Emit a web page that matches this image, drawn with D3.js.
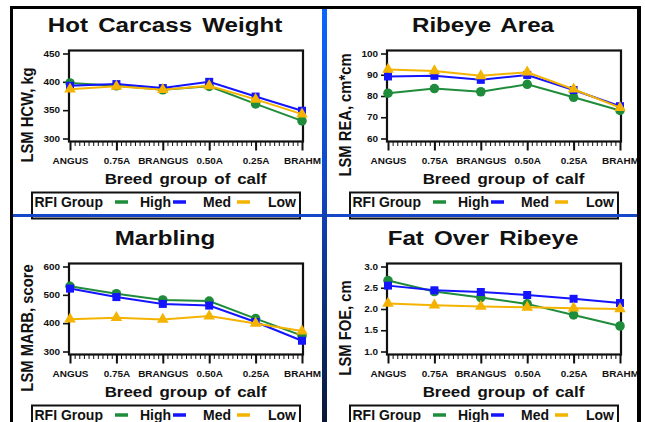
<!DOCTYPE html>
<html>
<head>
<meta charset="utf-8">
<script src="https://cdn.jsdelivr.net/npm/d3@7"></script>
<style>
  body { margin: 0; background: #fff; }
  svg text { font-family: "Liberation Sans", Arial, sans-serif; font-weight: bold; fill: #111; }
</style>
</head>
<body>
<svg id="chart" width="645" height="422"></svg>
<script>
// Breed groups of calf along the x axis
const categories = ["ANGUS", "0.75A", "BRANGUS", "0.50A", "0.25A", "BRAHM"];
const groups = ["High", "Med", "Low"];

// Hot carcass weight, kg
const hcwHigh = [398, 393, 386, 392, 361, 331];
const hcwMed  = [393, 396, 389, 400, 374, 349];
const hcwLow  = [387, 392, 386, 393, 369, 343];
const hcwTicks = [300, 350, 400, 450];

// Ribeye area, cm*cm
const reaHigh = [81.3, 83.5, 82.0, 85.5, 79.4, 73.2];
const reaMed  = [89.2, 89.5, 87.6, 89.9, 82.8, 75.2];
const reaLow  = [92.5, 91.8, 89.5, 91.2, 83.2, 74.5];
const reaTicks = [60, 70, 80, 90, 100];

// Marbling score
const marbHigh = [530, 504, 482, 478, 416, 356];
const marbMed  = [522, 492, 468, 462, 404, 338];
const marbLow  = [414, 419, 413, 425, 399, 372];
const marbTicks = [300, 400, 500, 600];

// Fat over ribeye, cm
const foeHigh = [2.67, 2.41, 2.27, 2.12, 1.86, 1.60];
const foeMed  = [2.55, 2.44, 2.40, 2.33, 2.24, 2.14];
const foeLow  = [2.13, 2.09, 2.06, 2.04, 2.02, 2.00];
const foeTicks = [1.0, 1.5, 2.0, 2.5, 3.0];

const colors = { High: "#1f8c3b", Med: "#1414ff", Low: "#f4b300" };

const panels = [
  { title: "Hot Carcass Weight", ylabel: "LSM HCW, kg", ticks: hcwTicks, fmt: d3.format("d"),
    series: { High: hcwHigh, Med: hcwMed, Low: hcwLow }, dx: 0, dy: 0 },
  { title: "Ribeye Area", ylabel: "LSM REA, cm*cm", ticks: reaTicks, fmt: d3.format("d"),
    series: { High: reaHigh, Med: reaMed, Low: reaLow }, dx: 318, dy: 0 },
  { title: "Marbling", ylabel: "LSM MARB, score", ticks: marbTicks, fmt: d3.format("d"),
    series: { High: marbHigh, Med: marbMed, Low: marbLow }, dx: 0, dy: 213 },
  { title: "Fat Over Ribeye", ylabel: "LSM FOE, cm", ticks: foeTicks, fmt: d3.format(".1f"),
    series: { High: foeHigh, Med: foeMed, Low: foeLow }, dx: 318, dy: 213 }
];

const svg = d3.select("#chart");
svg.append("rect").attr("width", 645).attr("height", 422).attr("fill", "#fff");

// text placed at (x, y), stretched horizontally by sx
function stretchedText(g, x, y, str, size, sx, anchor) {
  return g.append("text")
    .attr("transform", `translate(${x},${y}) scale(${sx},1)`)
    .attr("text-anchor", anchor || "middle")
    .attr("font-size", size)
    .text(str);
}

const frame = { left: 69, right: 303, top: 50.5, bottom: 141.5 };

panels.forEach(p => {
  const g = svg.append("g").attr("transform", `translate(${p.dx},${p.dy})`);

  // Title
  stretchedText(g, 165, 32, p.title, 21, 1.15).attr("word-spacing", 3);

  const x = d3.scalePoint().domain(categories).range([70, 302]);
  const y = d3.scaleLinear().domain(d3.extent(p.ticks)).range([138.5, 53.5]);

  // Plot frame
  g.append("rect")
    .attr("x", frame.left).attr("y", frame.top)
    .attr("width", frame.right - frame.left).attr("height", frame.bottom - frame.top)
    .attr("fill", "#fff").attr("stroke", "#111").attr("stroke-width", 2.2);

  // Y axis
  const yAxis = g.append("g").attr("transform", `translate(${frame.left},0)`)
    .call(d3.axisLeft(y).tickValues(p.ticks).tickFormat(p.fmt).tickSize(6).tickPadding(3));
  yAxis.select(".domain").remove();
  yAxis.selectAll(".tick line").attr("stroke", "#111").attr("stroke-width", 1.6);
  yAxis.selectAll(".tick text")
    .attr("font-size", 8.5).attr("font-family", null).attr("fill", "#111")
    .attr("x", -9 / 1.17).attr("transform", "scale(1.17,1)");

  // Minor ticks along x axis
  const idx = d3.scaleLinear().domain([0, categories.length - 1]).range([70, 302]);
  const minorVals = d3.range(0, (categories.length - 1) * 10 + 1).map(i => i / 10);
  const minor = g.append("g").attr("transform", `translate(0,${frame.bottom})`)
    .call(d3.axisBottom(idx).tickValues(minorVals).tickFormat("").tickSize(4.5));
  minor.select(".domain").remove();
  minor.selectAll(".tick line").attr("stroke", "#111").attr("stroke-width", 1);

  // Major x axis ticks and category labels
  const xAxis = g.append("g").attr("transform", `translate(0,${frame.bottom})`)
    .call(d3.axisBottom(x).tickSize(9).tickPadding(7));
  xAxis.select(".domain").remove();
  xAxis.selectAll(".tick line").attr("stroke", "#111").attr("stroke-width", 2);
  xAxis.selectAll(".tick text")
    .attr("font-size", 8.5).attr("font-family", null).attr("fill", "#111")
    .attr("transform", "scale(1.17,1)");

  // Axis titles
  stretchedText(g, 185.5, 184, "Breed group of calf", 15.4, 1.1).attr("word-spacing", 2);
  g.append("text")
    .attr("transform", `translate(33,115) rotate(-90) scale(0.87,1)`)
    .attr("text-anchor", "middle").attr("font-size", 17)
    .text(p.ylabel);

  // Series lines and markers
  const line = d3.line().x((d, i) => x(categories[i])).y(d => y(d));
  groups.forEach(grp => {
    const vals = p.series[grp];
    g.append("path").datum(vals)
      .attr("d", line).attr("fill", "none")
      .attr("stroke", colors[grp]).attr("stroke-width", 2);
    const symType = grp === "High" ? d3.symbolCircle : grp === "Med" ? d3.symbolSquare : d3.symbolTriangle;
    const symSize = grp === "High" ? 72 : grp === "Med" ? 64 : 58;
    g.selectAll(null).data(vals).enter().append("path")
      .attr("transform", (d, i) => `translate(${x(categories[i])},${y(d)})`)
      .attr("d", d3.symbol().type(symType).size(symSize))
      .attr("fill", colors[grp]);
  });

  // Legend
  const lg = g.append("g");
  lg.append("rect").attr("x", 32).attr("y", 192.5).attr("width", 268).attr("height", 26)
    .attr("fill", "#fff").attr("stroke", "#111").attr("stroke-width", 2);
  lg.append("text").attr("x", 34.5).attr("y", 207).attr("font-size", 14).text("RFI Group");
  const legendPos = { High: [115, 140], Med: [173, 203], Low: [237, 268] };
  groups.forEach(grp => {
    const [lx, tx] = legendPos[grp];
    lg.append("line").attr("x1", lx).attr("x2", lx + 13).attr("y1", 202).attr("y2", 202)
      .attr("stroke", colors[grp]).attr("stroke-width", 3.5);
    lg.append("text").attr("x", tx).attr("y", 207).attr("font-size", 14).text(grp);
  });
});

// Panel separators and outer border
const defs = svg.append("defs");
const grad = defs.append("linearGradient").attr("id", "vsep")
  .attr("x1", 0).attr("y1", 0).attr("x2", 0).attr("y2", 1);
grad.append("stop").attr("offset", "0%").attr("stop-color", "#0a66ff");
grad.append("stop").attr("offset", "45%").attr("stop-color", "#1244c0");
grad.append("stop").attr("offset", "100%").attr("stop-color", "#0a1836");

svg.append("rect").attr("x", 13).attr("y", 214).attr("width", 624).attr("height", 3).attr("fill", "#1448c8");
svg.append("rect").attr("x", 322).attr("y", 9).attr("width", 5).attr("height", 413).attr("fill", "url(#vsep)");

svg.append("rect").attr("x", 10).attr("y", 6).attr("width", 631).attr("height", 3).attr("fill", "#000");
svg.append("rect").attr("x", 10).attr("y", 6).attr("width", 3).attr("height", 416).attr("fill", "#000");
svg.append("rect").attr("x", 637).attr("y", 6).attr("width", 4).attr("height", 416).attr("fill", "#000");
</script>
</body>
</html>
